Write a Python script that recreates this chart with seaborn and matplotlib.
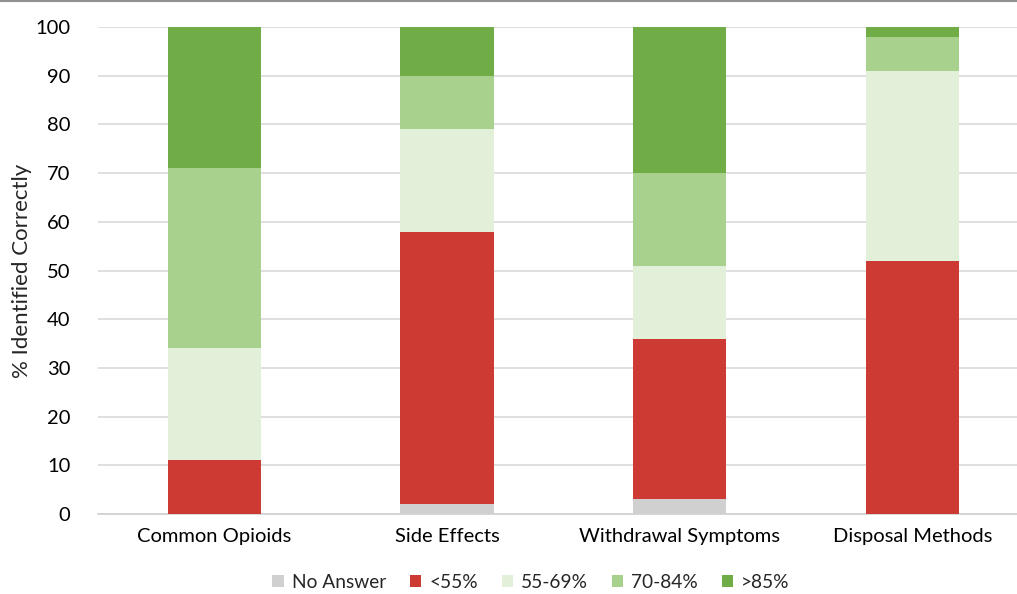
import matplotlib
matplotlib.use("Agg")
import matplotlib.pyplot as plt
from matplotlib.patches import Patch
from matplotlib.lines import Line2D
import seaborn as sns
import numpy as np
import pandas as pd

sns.set_theme(style="white")
plt.rcParams['font.family'] = ['Lato', 'DejaVu Sans']

categories = ["Common Opioids", "Side Effects", "Withdrawal Symptoms", "Disposal Methods"]
series = ["No Answer", "<55%", "55-69%", "70-84%", ">85%"]
no_answer = [0, 2, 3, 0]
below_55 = [11, 56, 33, 52]
r55_69 = [23, 21, 15, 39]
r70_84 = [37, 11, 19, 7]
above_85 = [29, 10, 30, 2]
colors = ["#d0d0d0", "#cc3a33", "#e2f0d9", "#a9d18e", "#70ad47"]

values = [no_answer, below_55, r55_69, r70_84, above_85]

fig = plt.figure(figsize=(10.17, 5.94), dpi=100)
ax = fig.add_axes([0.0964, 0.1347, 0.9036, 0.8198])

bottom = np.zeros(len(categories))
for name, vals, col in zip(series, values, colors):
    df = pd.DataFrame({"cat": categories, "val": vals})
    sns.barplot(data=df, x="cat", y="val", order=categories, color=col,
                width=0.4, bottom=bottom, ax=ax, saturation=1, zorder=3,
                linewidth=0, edgecolor="none")
    bottom = bottom + np.array(vals)

ax.set_ylim(0, 100)
ax.set_xlim(-0.5, 3.45)
ax.set_yticks(range(0, 101, 10))
ax.yaxis.grid(True, color="#d9d9d9", linewidth=1.2, zorder=0)
ax.set_axisbelow(True)
for s in ["top", "right", "left"]:
    ax.spines[s].set_visible(False)
ax.spines["bottom"].set_color("#d0d0d0")
ax.spines["bottom"].set_linewidth(1.2)
ax.tick_params(axis="both", length=0, labelsize=14.5, colors="black", pad=10)
ax.tick_params(axis="y", pad=20)
ax.set_xlabel("")
ax.set_ylabel("% Identified Correctly", fontsize=16, labelpad=2)

handles = [Patch(facecolor=c, edgecolor="none", label=s) for s, c in zip(series, colors)]
fig.legend(handles=handles, loc="center", bbox_to_anchor=(0.522, 0.02), ncol=5,
           frameon=False, fontsize=13.8, handlelength=0.6, handleheight=0.6,
           handletextpad=0.4, columnspacing=1.25)

fig.add_artist(Line2D([0, 1], [0.998, 0.998], color="#909090", linewidth=1.5,
                      transform=fig.transFigure))

fig.savefig("out.png", dpi=100)
